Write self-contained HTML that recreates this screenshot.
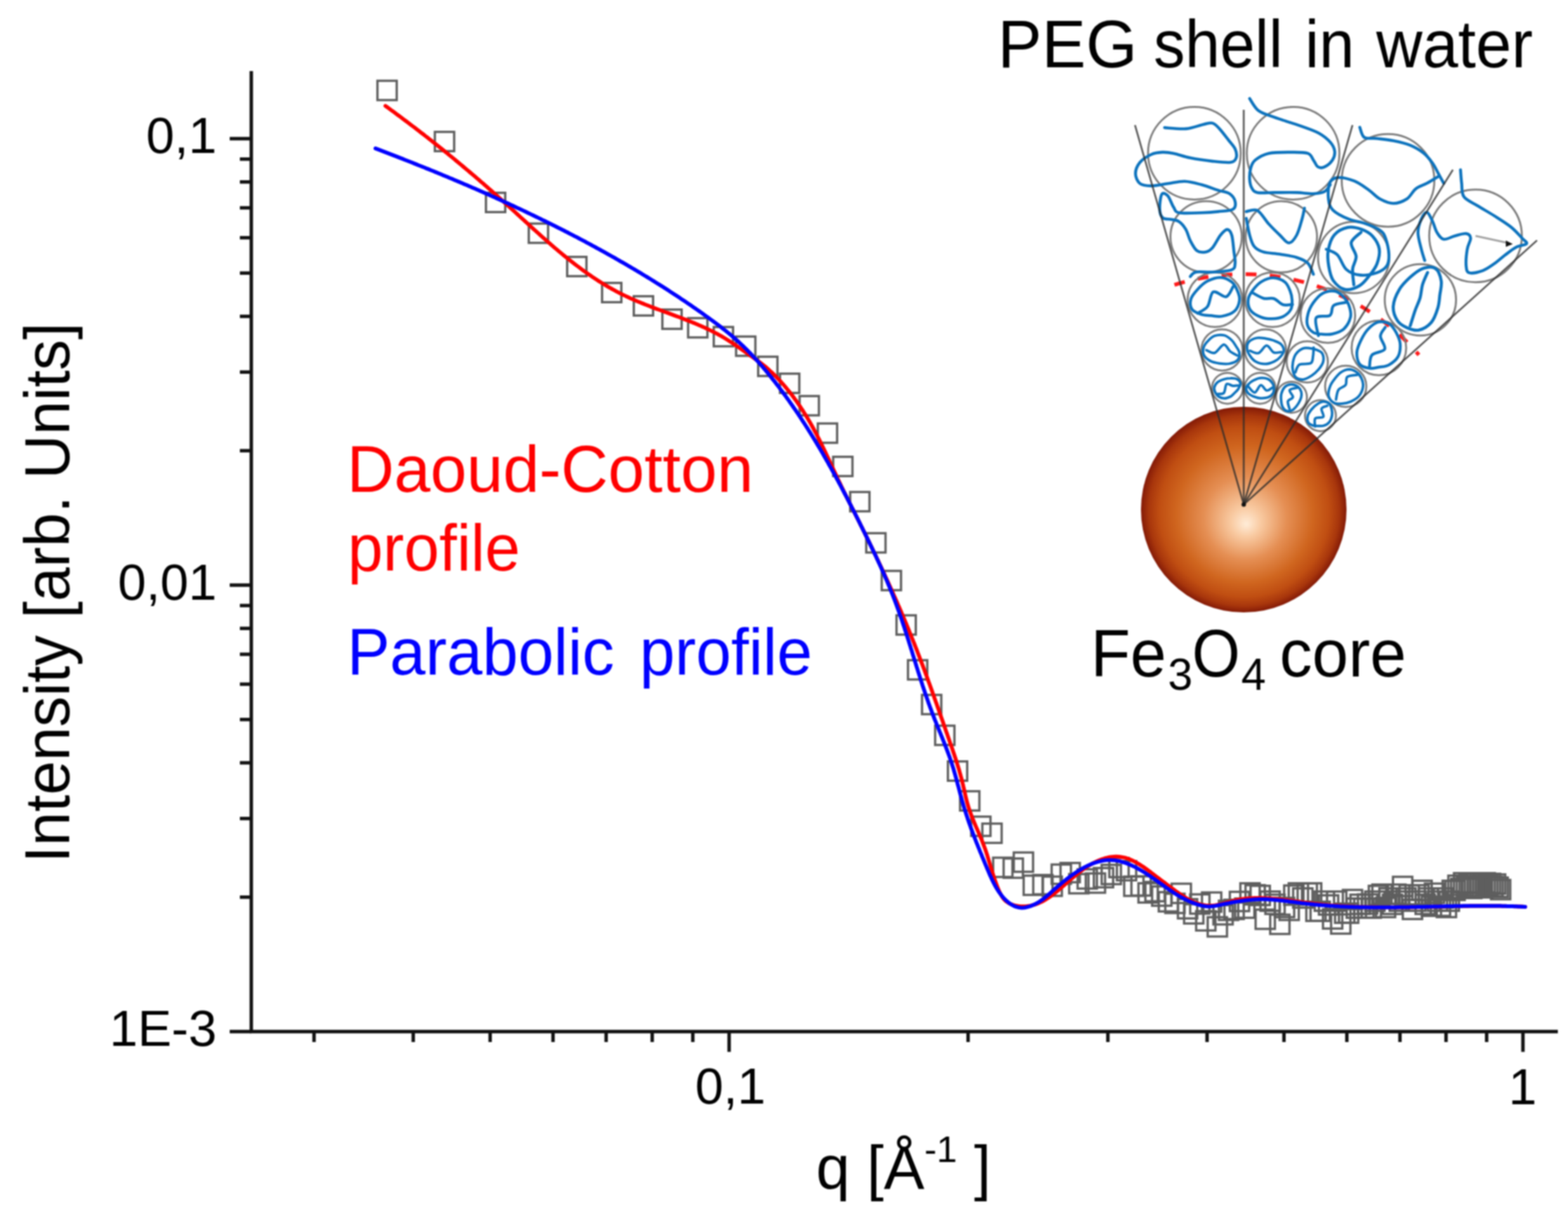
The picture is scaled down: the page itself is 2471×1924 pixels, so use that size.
<!DOCTYPE html>
<html><head><meta charset="utf-8"><title>SANS profile fit</title>
<style>html,body{margin:0;padding:0;background:#fff;overflow:hidden}svg{display:block;filter:blur(0.8px)}
text{font-family:"Liberation Sans",Arial,sans-serif}</style></head>
<body><svg width="2471" height="1924" viewBox="0 0 2471 1924">
<rect width="2471" height="1924" fill="#fff"/>
<g stroke="#111" stroke-width="5.4" fill="none">
<line x1="396.0" y1="112" x2="396.0" y2="1628.0"/>
<line x1="393.5" y1="1625.5" x2="2455" y2="1625.5"/>
<line x1="362" y1="1625.5" x2="396.0" y2="1625.5"/>
<line x1="362" y1="922.0" x2="396.0" y2="922.0"/>
<line x1="362" y1="218.5" x2="396.0" y2="218.5"/>
<line x1="378" y1="1413.7" x2="396.0" y2="1413.7"/>
<line x1="378" y1="1289.8" x2="396.0" y2="1289.8"/>
<line x1="378" y1="1202.0" x2="396.0" y2="1202.0"/>
<line x1="378" y1="1133.8" x2="396.0" y2="1133.8"/>
<line x1="378" y1="1078.1" x2="396.0" y2="1078.1"/>
<line x1="378" y1="1031.0" x2="396.0" y2="1031.0"/>
<line x1="378" y1="990.2" x2="396.0" y2="990.2"/>
<line x1="378" y1="954.2" x2="396.0" y2="954.2"/>
<line x1="378" y1="710.2" x2="396.0" y2="710.2"/>
<line x1="378" y1="586.3" x2="396.0" y2="586.3"/>
<line x1="378" y1="498.5" x2="396.0" y2="498.5"/>
<line x1="378" y1="430.3" x2="396.0" y2="430.3"/>
<line x1="378" y1="374.6" x2="396.0" y2="374.6"/>
<line x1="378" y1="327.5" x2="396.0" y2="327.5"/>
<line x1="378" y1="286.7" x2="396.0" y2="286.7"/>
<line x1="378" y1="250.7" x2="396.0" y2="250.7"/>
<line x1="1149.0" y1="1625.5" x2="1149.0" y2="1657.5"/>
<line x1="2400.0" y1="1625.5" x2="2400.0" y2="1657.5"/>
<line x1="494.9" y1="1625.5" x2="494.9" y2="1642"/>
<line x1="651.2" y1="1625.5" x2="651.2" y2="1642"/>
<line x1="772.4" y1="1625.5" x2="772.4" y2="1642"/>
<line x1="871.5" y1="1625.5" x2="871.5" y2="1642"/>
<line x1="955.2" y1="1625.5" x2="955.2" y2="1642"/>
<line x1="1027.8" y1="1625.5" x2="1027.8" y2="1642"/>
<line x1="1091.8" y1="1625.5" x2="1091.8" y2="1642"/>
<line x1="1525.6" y1="1625.5" x2="1525.6" y2="1642"/>
<line x1="1745.9" y1="1625.5" x2="1745.9" y2="1642"/>
<line x1="1902.2" y1="1625.5" x2="1902.2" y2="1642"/>
<line x1="2023.4" y1="1625.5" x2="2023.4" y2="1642"/>
<line x1="2122.5" y1="1625.5" x2="2122.5" y2="1642"/>
<line x1="2206.2" y1="1625.5" x2="2206.2" y2="1642"/>
<line x1="2278.8" y1="1625.5" x2="2278.8" y2="1642"/>
<line x1="2342.8" y1="1625.5" x2="2342.8" y2="1642"/>
</g>
<g font-size="80" fill="#000">
<text x="341.5" y="241.0" text-anchor="end">0,1</text>
<text x="341.5" y="944.5" text-anchor="end">0,01</text>
<text x="341.5" y="1648.0" text-anchor="end">1E-3</text>
<text x="1151" y="1739" text-anchor="middle">0,1</text>
<text x="2399.5" y="1740" text-anchor="middle">1</text>
</g>
<text transform="rotate(-90)" x="-1359.7" y="109.0" font-size="100" fill="#000" textLength="851.1" lengthAdjust="spacingAndGlyphs">Intensity [arb. Units]</text>
<text x="1286" y="1872.6" font-size="96" fill="#000">q [Å<tspan font-size="58" dy="-42">-1</tspan><tspan dy="42"> ]</tspan></text>
<text x="546.8" y="775.0" font-size="104" fill="#ff0000" textLength="640.3" lengthAdjust="spacingAndGlyphs">Daoud-Cotton</text>
<text x="548.0" y="898.6" font-size="104" fill="#ff0000" textLength="271.7" lengthAdjust="spacingAndGlyphs">profile</text>
<text x="546.9" y="1062.6" font-size="104" fill="#0000ff" textLength="421.1" lengthAdjust="spacingAndGlyphs">Parabolic</text>
<text x="1008.1" y="1062.6" font-size="104" fill="#0000ff" textLength="271.8" lengthAdjust="spacingAndGlyphs">profile</text>
<g fill="none" stroke="#5e5e5e" stroke-width="3.6">
<rect x="594.8" y="127.3" width="30.4" height="30.4"/>
<rect x="685.3" y="207.8" width="30.4" height="30.4"/>
<rect x="765.8" y="303.8" width="30.4" height="30.4"/>
<rect x="833.3" y="352.3" width="30.4" height="30.4"/>
<rect x="893.8" y="404.8" width="30.4" height="30.4"/>
<rect x="948.8" y="445.8" width="30.4" height="30.4"/>
<rect x="998.8" y="466.8" width="30.4" height="30.4"/>
<rect x="1043.8" y="487.8" width="30.4" height="30.4"/>
<rect x="1084.4" y="501.3" width="30.4" height="30.4"/>
<rect x="1124.8" y="515.3" width="30.4" height="30.4"/>
<rect x="1160.0" y="530.3" width="30.4" height="30.4"/>
<rect x="1194.8" y="562.1" width="30.4" height="30.4"/>
<rect x="1229.2" y="588.8" width="30.4" height="30.4"/>
<rect x="1260.1" y="624.1" width="30.4" height="30.4"/>
<rect x="1288.8" y="667.3" width="30.4" height="30.4"/>
<rect x="1313.0" y="719.8" width="30.4" height="30.4"/>
<rect x="1339.8" y="775.3" width="30.4" height="30.4"/>
<rect x="1365.1" y="840.2" width="30.4" height="30.4"/>
<rect x="1389.5" y="899.6" width="30.4" height="30.4"/>
<rect x="1412.8" y="969.6" width="30.4" height="30.4"/>
<rect x="1430.9" y="1040.3" width="30.4" height="30.4"/>
<rect x="1453.0" y="1095.0" width="30.4" height="30.4"/>
<rect x="1473.7" y="1143.5" width="30.4" height="30.4"/>
<rect x="1493.8" y="1199.8" width="30.4" height="30.4"/>
<rect x="1513.0" y="1246.8" width="30.4" height="30.4"/>
<rect x="1530.5" y="1286.8" width="30.4" height="30.4"/>
<rect x="1548.1" y="1297.8" width="30.4" height="30.4"/>
<rect x="1565.1" y="1351.5" width="30.4" height="30.4"/>
<rect x="1581.6" y="1352.8" width="30.4" height="30.4"/>
<rect x="1597.6" y="1343.3" width="30.4" height="30.4"/>
<rect x="1613.2" y="1379.8" width="30.4" height="30.4"/>
<rect x="1628.3" y="1378.8" width="30.4" height="30.4"/>
<rect x="1643.0" y="1381.3" width="30.4" height="30.4"/>
<rect x="1657.3" y="1362.3" width="30.4" height="30.4"/>
<rect x="1671.3" y="1359.8" width="30.4" height="30.4"/>
<rect x="1684.9" y="1377.3" width="30.4" height="30.4"/>
<rect x="1698.2" y="1369.8" width="30.4" height="30.4"/>
<rect x="1711.1" y="1376.3" width="30.4" height="30.4"/>
<rect x="1723.8" y="1367.8" width="30.4" height="30.4"/>
<rect x="1736.1" y="1362.8" width="30.4" height="30.4"/>
<rect x="1748.2" y="1351.8" width="30.4" height="30.4"/>
<rect x="1760.1" y="1356.8" width="30.4" height="30.4"/>
<rect x="1771.6" y="1381.3" width="30.4" height="30.4"/>
<rect x="1783.0" y="1380.8" width="30.4" height="30.4"/>
<rect x="1794.1" y="1391.8" width="30.4" height="30.4"/>
<rect x="1805.0" y="1389.8" width="30.4" height="30.4"/>
<rect x="1815.6" y="1396.8" width="30.4" height="30.4"/>
<rect x="1826.1" y="1405.8" width="30.4" height="30.4"/>
<rect x="1836.4" y="1408.3" width="30.4" height="30.4"/>
<rect x="1846.4" y="1392.5" width="30.4" height="30.4"/>
<rect x="1856.3" y="1416.8" width="30.4" height="30.4"/>
<rect x="1866.0" y="1424.8" width="30.4" height="30.4"/>
<rect x="1875.6" y="1409.3" width="30.4" height="30.4"/>
<rect x="1885.0" y="1435.8" width="30.4" height="30.4"/>
<rect x="1894.2" y="1406.3" width="30.4" height="30.4"/>
<rect x="1903.2" y="1445.3" width="30.4" height="30.4"/>
<rect x="1912.2" y="1426.3" width="30.4" height="30.4"/>
<rect x="1920.9" y="1419.3" width="30.4" height="30.4"/>
<rect x="1929.6" y="1417.8" width="30.4" height="30.4"/>
<rect x="1938.1" y="1405.3" width="30.4" height="30.4"/>
<rect x="1946.4" y="1415.8" width="30.4" height="30.4"/>
<rect x="1954.7" y="1391.8" width="30.4" height="30.4"/>
<rect x="1962.8" y="1394.8" width="30.4" height="30.4"/>
<rect x="1970.8" y="1395.8" width="30.4" height="30.4"/>
<rect x="1978.7" y="1433.3" width="30.4" height="30.4"/>
<rect x="1986.4" y="1404.8" width="30.4" height="30.4"/>
<rect x="1994.1" y="1409.8" width="30.4" height="30.4"/>
<rect x="2001.7" y="1441.3" width="30.4" height="30.4"/>
<rect x="2009.1" y="1414.8" width="30.4" height="30.4"/>
<rect x="2016.4" y="1419.3" width="30.4" height="30.4"/>
<rect x="2023.7" y="1395.3" width="30.4" height="30.4"/>
<rect x="2030.9" y="1391.8" width="30.4" height="30.4"/>
<rect x="2037.9" y="1399.8" width="30.4" height="30.4"/>
<rect x="2044.9" y="1391.8" width="30.4" height="30.4"/>
<rect x="2051.8" y="1391.8" width="30.4" height="30.4"/>
<rect x="2058.6" y="1420.8" width="30.4" height="30.4"/>
<rect x="2065.3" y="1420.8" width="30.4" height="30.4"/>
<rect x="2071.9" y="1404.8" width="30.4" height="30.4"/>
<rect x="2078.5" y="1410.8" width="30.4" height="30.4"/>
<rect x="2084.9" y="1432.8" width="30.4" height="30.4"/>
<rect x="2091.3" y="1404.8" width="30.4" height="30.4"/>
<rect x="2097.7" y="1440.8" width="30.4" height="30.4"/>
<rect x="2103.9" y="1423.8" width="30.4" height="30.4"/>
<rect x="2110.1" y="1423.8" width="30.4" height="30.4"/>
<rect x="2116.2" y="1402.3" width="30.4" height="30.4"/>
<rect x="2122.2" y="1415.8" width="30.4" height="30.4"/>
<rect x="2128.2" y="1409.8" width="30.4" height="30.4"/>
<rect x="2134.1" y="1415.8" width="30.4" height="30.4"/>
<rect x="2140.0" y="1409.3" width="30.4" height="30.4"/>
<rect x="2145.8" y="1415.8" width="30.4" height="30.4"/>
<rect x="2151.5" y="1404.8" width="30.4" height="30.4"/>
<rect x="2157.1" y="1395.8" width="30.4" height="30.4"/>
<rect x="2162.7" y="1393.8" width="30.4" height="30.4"/>
<rect x="2168.3" y="1414.8" width="30.4" height="30.4"/>
<rect x="2173.8" y="1399.8" width="30.4" height="30.4"/>
<rect x="2179.2" y="1409.8" width="30.4" height="30.4"/>
<rect x="2184.6" y="1393.8" width="30.4" height="30.4"/>
<rect x="2189.9" y="1404.8" width="30.4" height="30.4"/>
<rect x="2195.2" y="1381.6" width="30.4" height="30.4"/>
<rect x="2200.4" y="1399.8" width="30.4" height="30.4"/>
<rect x="2205.6" y="1394.8" width="30.4" height="30.4"/>
<rect x="2210.7" y="1417.8" width="30.4" height="30.4"/>
<rect x="2215.8" y="1404.8" width="30.4" height="30.4"/>
<rect x="2220.9" y="1394.8" width="30.4" height="30.4"/>
<rect x="2225.8" y="1387.8" width="30.4" height="30.4"/>
<rect x="2230.8" y="1409.8" width="30.4" height="30.4"/>
<rect x="2235.7" y="1399.8" width="30.4" height="30.4"/>
<rect x="2240.5" y="1412.8" width="30.4" height="30.4"/>
<rect x="2245.4" y="1392.3" width="30.4" height="30.4"/>
<rect x="2250.1" y="1404.8" width="30.4" height="30.4"/>
<rect x="2254.8" y="1412.8" width="30.4" height="30.4"/>
<rect x="2259.5" y="1399.8" width="30.4" height="30.4"/>
<rect x="2264.2" y="1414.8" width="30.4" height="30.4"/>
<rect x="2268.8" y="1404.8" width="30.4" height="30.4"/>
<rect x="2273.4" y="1387.8" width="30.4" height="30.4"/>
<rect x="2277.9" y="1387.8" width="30.4" height="30.4"/>
<rect x="2282.4" y="1379.8" width="30.4" height="30.4"/>
<rect x="2286.8" y="1384.8" width="30.4" height="30.4"/>
<rect x="2291.3" y="1375.8" width="30.4" height="30.4"/>
<rect x="2295.6" y="1382.8" width="30.4" height="30.4"/>
<rect x="2300.0" y="1376.8" width="30.4" height="30.4"/>
<rect x="2304.3" y="1384.8" width="30.4" height="30.4"/>
<rect x="2308.6" y="1375.8" width="30.4" height="30.4"/>
<rect x="2312.8" y="1380.8" width="30.4" height="30.4"/>
<rect x="2317.0" y="1376.8" width="30.4" height="30.4"/>
<rect x="2321.2" y="1383.8" width="30.4" height="30.4"/>
<rect x="2325.4" y="1375.8" width="30.4" height="30.4"/>
<rect x="2329.5" y="1379.8" width="30.4" height="30.4"/>
<rect x="2333.6" y="1376.8" width="30.4" height="30.4"/>
<rect x="2337.6" y="1381.8" width="30.4" height="30.4"/>
<rect x="2341.7" y="1377.8" width="30.4" height="30.4"/>
<rect x="2345.7" y="1382.8" width="30.4" height="30.4"/>
<rect x="2349.6" y="1386.6" width="30.4" height="30.4"/>
</g>
<path d="M607.4,166.8 L609.7,168.5 L612.0,170.2 L614.3,171.9 L616.6,173.6 L618.9,175.2 L621.2,176.9 L623.5,178.6 L625.7,180.3 L628.0,182.0 L630.3,183.7 L632.6,185.4 L634.8,187.1 L637.1,188.8 L639.4,190.5 L641.6,192.2 L643.9,193.9 L646.1,195.6 L648.4,197.3 L650.6,199.0 L652.9,200.7 L655.1,202.4 L657.3,204.1 L659.6,205.8 L661.8,207.6 L664.0,209.3 L666.3,211.0 L668.5,212.7 L670.7,214.5 L672.9,216.2 L675.1,217.9 L677.3,219.7 L679.5,221.4 L681.7,223.1 L683.9,224.9 L686.1,226.6 L688.3,228.4 L690.5,230.1 L692.7,231.9 L694.9,233.6 L697.1,235.4 L699.2,237.1 L701.4,238.9 L703.6,240.7 L705.8,242.4 L707.9,244.2 L710.1,246.0 L712.3,247.8 L714.4,249.5 L716.6,251.3 L718.7,253.1 L720.9,254.9 L723.1,256.7 L725.2,258.5 L727.4,260.3 L729.5,262.1 L731.6,263.9 L733.8,265.7 L735.9,267.5 L738.1,269.3 L740.2,271.1 L742.3,272.9 L744.5,274.7 L746.6,276.5 L748.7,278.3 L750.9,280.2 L753.0,282.0 L755.1,283.8 L757.2,285.7 L759.3,287.5 L761.5,289.3 L763.6,291.2 L765.7,293.0 L767.8,294.9 L769.9,296.7 L772.0,298.6 L774.1,300.4 L776.2,302.3 L778.3,304.2 L780.4,306.0 L782.5,307.9 L784.6,309.8 L786.7,311.6 L788.8,313.5 L790.9,315.4 L793.0,317.3 L795.1,319.2 L797.2,321.1 L799.3,323.0 L801.4,324.9 L803.5,326.8 L805.6,328.7 L807.7,330.6 L809.8,332.5 L811.9,334.4 L813.9,336.3 L816.0,338.2 L818.1,340.1 L820.2,342.1 L822.3,344.0 L824.4,345.9 L826.5,347.8 L828.6,349.7 L830.7,351.6 L832.8,353.6 L834.9,355.5 L837.0,357.4 L839.0,359.3 L841.1,361.2 L843.3,363.1 L845.4,365.0 L847.5,366.9 L849.6,368.8 L851.7,370.7 L853.8,372.6 L855.9,374.5 L858.0,376.3 L860.2,378.2 L862.3,380.1 L864.4,382.0 L866.6,383.8 L868.7,385.7 L870.8,387.5 L873.0,389.4 L875.1,391.2 L877.3,393.0 L879.4,394.9 L881.6,396.7 L883.8,398.5 L885.9,400.3 L888.1,402.1 L890.3,403.9 L892.5,405.7 L894.7,407.4 L896.9,409.2 L899.1,410.9 L901.3,412.7 L903.5,414.4 L905.7,416.1 L908.0,417.8 L910.2,419.5 L912.5,421.2 L914.7,422.9 L917.0,424.6 L919.2,426.2 L921.5,427.9 L923.8,429.5 L926.1,431.1 L928.4,432.7 L930.7,434.3 L933.0,435.9 L935.3,437.4 L937.6,439.0 L940.0,440.5 L942.3,442.1 L944.7,443.6 L947.0,445.0 L949.4,446.5 L951.8,448.0 L954.2,449.4 L956.6,450.9 L959.0,452.3 L961.4,453.7 L963.8,455.0 L966.3,456.4 L968.7,457.7 L971.2,459.1 L973.7,460.4 L976.1,461.7 L978.6,462.9 L981.1,464.2 L983.7,465.4 L986.2,466.6 L988.7,467.8 L991.3,469.0 L993.8,470.2 L996.4,471.3 L999.0,472.4 L1001.6,473.6 L1004.2,474.7 L1006.8,475.7 L1009.4,476.8 L1012.0,477.9 L1014.6,478.9 L1017.2,480.0 L1019.9,481.0 L1022.5,482.0 L1025.1,483.1 L1027.8,484.1 L1030.4,485.1 L1033.1,486.1 L1035.7,487.1 L1038.4,488.0 L1041.1,489.0 L1043.7,490.0 L1046.4,491.0 L1049.0,492.0 L1051.7,492.9 L1054.4,493.9 L1057.0,494.9 L1059.7,495.9 L1062.3,496.9 L1065.0,497.9 L1067.7,498.8 L1070.3,499.8 L1072.9,500.8 L1075.6,501.8 L1078.2,502.9 L1080.9,503.9 L1083.5,504.9 L1086.1,505.9 L1088.7,507.0 L1091.3,508.1 L1094.0,509.1 L1096.5,510.2 L1099.1,511.3 L1101.7,512.4 L1104.3,513.5 L1106.9,514.7 L1109.4,515.8 L1112.0,517.0 L1114.5,518.2 L1117.0,519.4 L1119.5,520.6 L1122.0,521.8 L1124.5,523.1 L1127.0,524.4 L1129.4,525.7 L1131.9,527.0 L1134.3,528.3 L1136.7,529.7 L1139.1,531.1 L1141.5,532.5 L1143.9,534.0 L1146.3,535.5 L1148.6,537.0 L1150.9,538.5 L1153.3,540.0 L1155.6,541.5 L1157.9,543.1 L1160.2,544.7 L1162.5,546.3 L1164.8,547.9 L1167.1,549.5 L1169.4,551.1 L1171.7,552.7 L1174.0,554.4 L1176.3,556.0 L1178.6,557.6 L1180.9,559.2 L1183.2,560.8 L1185.5,562.4 L1187.8,564.1 L1190.1,565.7 L1192.4,567.3 L1194.7,569.0 L1197.0,570.6 L1199.3,572.3 L1201.5,574.1 L1203.7,575.8 L1205.9,577.6 L1208.0,579.4 L1210.1,581.3 L1212.2,583.2 L1214.3,585.1 L1216.4,587.0 L1218.4,588.9 L1220.4,590.9 L1222.4,592.9 L1224.3,594.9 L1226.3,597.0 L1228.2,599.0 L1230.1,601.1 L1232.0,603.2 L1233.9,605.3 L1235.7,607.4 L1237.5,609.5 L1239.3,611.7 L1241.1,613.9 L1242.9,616.0 L1244.6,618.2 L1246.4,620.5 L1248.1,622.7 L1249.8,624.9 L1251.5,627.2 L1253.1,629.5 L1254.8,631.7 L1256.4,634.0 L1258.0,636.4 L1259.6,638.7 L1261.2,641.0 L1262.7,643.4 L1264.3,645.7 L1265.8,648.1 L1267.3,650.5 L1268.8,652.8 L1270.3,655.2 L1271.8,657.7 L1273.2,660.1 L1274.6,662.5 L1276.1,664.9 L1277.5,667.4 L1278.8,669.8 L1280.2,672.3 L1281.6,674.8 L1282.9,677.2 L1284.2,679.7 L1285.6,682.2 L1286.9,684.7 L1288.2,687.2 L1289.4,689.7 L1290.7,692.2 L1292.0,694.7 L1293.2,697.2 L1294.5,699.8 L1295.7,702.3 L1296.9,704.8 L1298.2,707.3 L1299.4,709.9 L1300.6,712.4 L1301.8,715.0 L1303.0,717.5 L1304.2,720.0 L1305.4,722.6 L1306.6,725.1 L1307.8,727.7 L1308.9,730.2 L1310.1,732.8 L1311.3,735.4 L1312.5,737.9 L1313.7,740.5 L1314.9,743.0 L1316.1,745.6 L1317.3,748.1 L1318.4,750.6 L1319.6,753.2 L1320.8,755.7 L1322.1,758.3 L1323.3,760.8 L1324.5,763.3 L1325.7,765.9 L1326.9,768.4 L1328.2,770.9 L1329.4,773.5 L1330.6,776.0 L1331.9,778.5 L1333.1,781.0 L1334.4,783.5 L1335.6,786.1 L1336.9,788.6 L1338.2,791.1 L1339.4,793.6 L1340.7,796.1 L1341.9,798.6 L1343.2,801.1 L1344.5,803.7 L1345.7,806.2 L1347.0,808.7 L1348.3,811.2 L1349.5,813.7 L1350.8,816.2 L1352.1,818.7 L1353.3,821.2 L1354.6,823.7 L1355.8,826.3 L1357.1,828.8 L1358.4,831.3 L1359.6,833.8 L1360.9,836.3 L1362.1,838.9 L1363.4,841.4 L1364.6,843.9 L1365.8,846.4 L1367.1,848.9 L1368.3,851.5 L1369.6,854.0 L1370.8,856.5 L1372.0,859.1 L1373.3,861.6 L1374.5,864.1 L1375.7,866.7 L1376.9,869.2 L1378.1,871.7 L1379.4,874.3 L1380.6,876.8 L1381.8,879.4 L1383.0,881.9 L1384.2,884.4 L1385.4,887.0 L1386.6,889.5 L1387.8,892.1 L1389.0,894.6 L1390.2,897.2 L1391.4,899.7 L1392.6,902.3 L1393.7,904.8 L1394.9,907.4 L1396.1,910.0 L1397.3,912.5 L1398.4,915.1 L1399.6,917.6 L1400.8,920.2 L1401.9,922.8 L1403.1,925.3 L1404.3,927.9 L1405.4,930.5 L1406.6,933.0 L1407.7,935.6 L1408.8,938.2 L1410.0,940.8 L1411.1,943.3 L1412.3,945.9 L1413.4,948.5 L1414.5,951.1 L1415.6,953.7 L1416.8,956.2 L1417.9,958.8 L1419.0,961.4 L1420.1,964.0 L1421.2,966.6 L1422.3,969.2 L1423.4,971.8 L1424.5,974.4 L1425.6,977.0 L1426.7,979.6 L1427.8,982.1 L1428.8,984.7 L1429.9,987.3 L1431.0,990.0 L1432.1,992.6 L1433.1,995.2 L1434.2,997.8 L1435.2,1000.4 L1436.3,1003.0 L1437.3,1005.6 L1438.4,1008.2 L1439.4,1010.8 L1440.5,1013.4 L1441.5,1016.1 L1442.5,1018.7 L1443.6,1021.3 L1444.6,1023.9 L1445.6,1026.5 L1446.6,1029.2 L1447.6,1031.8 L1448.6,1034.4 L1449.6,1037.0 L1450.6,1039.7 L1451.6,1042.3 L1452.6,1044.9 L1453.6,1047.6 L1454.6,1050.2 L1455.6,1052.8 L1456.6,1055.5 L1457.5,1058.1 L1458.5,1060.8 L1459.5,1063.4 L1460.5,1066.0 L1461.4,1068.7 L1462.4,1071.3 L1463.3,1074.0 L1464.3,1076.6 L1465.3,1079.3 L1466.2,1081.9 L1467.2,1084.5 L1468.1,1087.2 L1469.1,1089.8 L1470.0,1092.5 L1471.0,1095.1 L1471.9,1097.8 L1472.8,1100.4 L1473.8,1103.1 L1474.7,1105.8 L1475.7,1108.4 L1476.6,1111.1 L1477.5,1113.7 L1478.5,1116.4 L1479.4,1119.0 L1480.3,1121.7 L1481.2,1124.3 L1482.2,1127.0 L1483.1,1129.7 L1484.0,1132.3 L1485.0,1135.0 L1485.9,1137.6 L1486.8,1140.3 L1487.7,1142.9 L1488.7,1145.6 L1489.6,1148.3 L1490.5,1150.9 L1491.4,1153.6 L1492.4,1156.2 L1493.3,1158.9 L1494.2,1161.5 L1495.2,1164.2 L1496.1,1166.9 L1497.0,1169.5 L1497.9,1172.2 L1498.9,1174.8 L1499.8,1177.5 L1500.7,1180.1 L1501.6,1182.8 L1502.5,1185.5 L1503.4,1188.1 L1504.3,1190.8 L1505.2,1193.5 L1506.1,1196.1 L1506.9,1198.8 L1507.8,1201.5 L1508.6,1204.2 L1509.4,1206.8 L1510.3,1209.5 L1511.1,1212.2 L1511.9,1214.9 L1512.6,1217.6 L1513.4,1220.3 L1514.1,1223.0 L1514.9,1225.7 L1515.6,1228.4 L1516.3,1231.2 L1516.9,1233.9 L1517.6,1236.6 L1518.2,1239.3 L1518.8,1242.1 L1519.5,1244.8 L1520.1,1247.6 L1520.7,1250.3 L1521.3,1253.0 L1521.9,1255.8 L1522.6,1258.5 L1523.3,1261.2 L1524.0,1263.9 L1524.7,1266.7 L1525.5,1269.4 L1526.3,1272.0 L1527.2,1274.7 L1528.1,1277.4 L1529.0,1280.1 L1530.0,1282.7 L1531.0,1285.3 L1532.0,1288.0 L1533.1,1290.6 L1534.1,1293.2 L1535.2,1295.9 L1536.3,1298.5 L1537.4,1301.1 L1538.5,1303.7 L1539.7,1306.3 L1540.8,1308.9 L1541.9,1311.5 L1543.0,1314.1 L1544.1,1316.7 L1545.2,1319.3 L1546.3,1321.9 L1547.4,1324.5 L1548.4,1327.1 L1549.4,1329.7 L1550.4,1332.3 L1551.4,1335.0 L1552.4,1337.6 L1553.3,1340.2 L1554.2,1342.8 L1555.0,1345.5 L1555.9,1348.1 L1556.7,1350.8 L1557.5,1353.4 L1558.3,1356.1 L1559.1,1358.7 L1559.9,1361.4 L1560.7,1364.1 L1561.5,1366.8 L1562.3,1369.4 L1563.2,1372.1 L1564.0,1374.8 L1564.8,1377.5 L1565.7,1380.2 L1566.6,1382.9 L1567.5,1385.6 L1568.4,1388.3 L1569.4,1391.1 L1570.4,1393.8 L1571.4,1396.5 L1572.5,1399.3 L1573.6,1402.0 L1574.8,1404.7 L1576.1,1407.4 L1577.4,1410.0 L1578.9,1412.5 L1580.5,1414.9 L1582.2,1417.1 L1584.2,1419.1 L1586.3,1420.8 L1588.6,1422.4 L1591.0,1423.8 L1593.6,1424.9 L1596.2,1425.9 L1599.0,1426.7 L1601.7,1427.3 L1604.6,1427.8 L1607.4,1428.1 L1610.3,1428.2 L1613.1,1428.3 L1615.9,1428.2 L1618.6,1427.9 L1621.3,1427.6 L1623.9,1427.1 L1626.6,1426.5 L1629.1,1425.9 L1631.7,1425.1 L1634.2,1424.2 L1636.6,1423.2 L1639.1,1422.1 L1641.5,1421.0 L1643.8,1419.8 L1646.2,1418.4 L1648.5,1417.1 L1650.8,1415.6 L1653.1,1414.1 L1655.4,1412.5 L1657.6,1410.9 L1659.8,1409.2 L1662.1,1407.5 L1664.3,1405.7 L1666.5,1403.9 L1668.7,1402.1 L1670.9,1400.2 L1673.1,1398.3 L1675.2,1396.4 L1677.4,1394.5 L1679.6,1392.6 L1681.8,1390.6 L1684.0,1388.7 L1686.2,1386.7 L1688.5,1384.8 L1690.7,1382.9 L1692.9,1381.0 L1695.2,1379.1 L1697.5,1377.2 L1699.8,1375.4 L1702.1,1373.6 L1704.5,1371.8 L1706.9,1370.1 L1709.3,1368.4 L1711.7,1366.7 L1714.1,1365.1 L1716.6,1363.6 L1719.1,1362.1 L1721.6,1360.7 L1724.1,1359.4 L1726.6,1358.1 L1729.1,1356.9 L1731.7,1355.8 L1734.3,1354.8 L1736.8,1353.8 L1739.4,1353.0 L1742.0,1352.2 L1744.6,1351.6 L1747.2,1351.0 L1749.8,1350.5 L1752.5,1350.2 L1755.1,1349.9 L1757.7,1349.8 L1760.3,1349.8 L1763.0,1349.9 L1765.6,1350.2 L1768.2,1350.6 L1770.8,1351.1 L1773.4,1351.7 L1776.0,1352.5 L1778.6,1353.4 L1781.2,1354.5 L1783.8,1355.6 L1786.4,1356.8 L1788.9,1358.2 L1791.5,1359.6 L1794.0,1361.0 L1796.5,1362.6 L1799.0,1364.2 L1801.5,1365.8 L1803.9,1367.5 L1806.3,1369.2 L1808.8,1371.0 L1811.1,1372.8 L1813.5,1374.5 L1815.8,1376.3 L1818.1,1378.0 L1820.4,1379.8 L1822.6,1381.5 L1824.8,1383.2 L1827.0,1384.8 L1829.1,1386.5 L1831.3,1388.1 L1833.4,1389.7 L1835.5,1391.3 L1837.7,1392.9 L1839.8,1394.5 L1842.0,1396.1 L1844.2,1397.8 L1846.4,1399.4 L1848.6,1401.0 L1850.9,1402.7 L1853.2,1404.4 L1855.5,1406.0 L1857.9,1407.7 L1860.3,1409.3 L1862.7,1410.9 L1865.1,1412.5 L1867.6,1414.1 L1870.1,1415.6 L1872.6,1417.0 L1875.1,1418.4 L1877.7,1419.7 L1880.3,1420.9 L1882.9,1422.0 L1885.5,1423.1 L1888.1,1424.0 L1890.8,1424.8 L1893.5,1425.6 L1896.1,1426.2 L1898.8,1426.6 L1901.5,1426.9 L1904.3,1427.1 L1907.0,1427.1 L1909.7,1427.0 L1912.5,1426.8 L1915.3,1426.4 L1918.0,1425.9 L1920.8,1425.4 L1923.6,1424.7 L1926.4,1424.1 L1929.2,1423.3 L1931.9,1422.6 L1934.7,1421.8 L1937.5,1421.1 L1940.3,1420.3 L1943.1,1419.6 L1945.9,1418.9 L1948.7,1418.3 L1951.5,1417.8 L1954.3,1417.3 L1957.1,1416.8 L1959.9,1416.4 L1962.7,1416.1 L1965.5,1415.8 L1968.3,1415.6 L1971.1,1415.4 L1973.9,1415.2 L1976.7,1415.1 L1979.4,1415.1 L1982.2,1415.0 L1985.0,1415.0 L1987.8,1415.1 L1990.6,1415.2 L1993.4,1415.3 L1996.1,1415.4 L1998.9,1415.6 L2001.7,1415.8 L2004.5,1416.0 L2007.3,1416.2 L2010.1,1416.5 L2012.9,1416.7 L2015.6,1417.0 L2018.4,1417.3 L2021.2,1417.6 L2024.0,1418.0 L2026.8,1418.3 L2029.6,1418.6 L2032.4,1419.0 L2035.2,1419.3 L2038.0,1419.7 L2040.7,1420.1 L2043.5,1420.4 L2046.3,1420.8 L2049.1,1421.2 L2051.9,1421.5 L2054.7,1421.9 L2057.5,1422.2 L2060.3,1422.6 L2063.1,1423.0 L2065.9,1423.3 L2068.7,1423.6 L2071.5,1424.0 L2074.3,1424.3 L2077.1,1424.6 L2079.9,1424.9 L2082.7,1425.2 L2085.5,1425.5 L2088.3,1425.7 L2091.1,1426.0 L2093.9,1426.2 L2096.7,1426.5 L2099.5,1426.7 L2102.3,1426.9 L2105.1,1427.1 L2107.9,1427.3 L2110.8,1427.5 L2113.6,1427.7 L2116.4,1427.9 L2119.2,1428.0 L2122.0,1428.2 L2124.8,1428.3 L2127.6,1428.5 L2130.4,1428.6 L2133.2,1428.7 L2136.0,1428.8 L2138.8,1428.9 L2141.7,1429.0 L2144.5,1429.1 L2147.3,1429.2 L2150.1,1429.3 L2152.9,1429.3 L2155.7,1429.4 L2158.5,1429.5 L2161.3,1429.5 L2164.2,1429.6 L2167.0,1429.6 L2169.8,1429.6 L2172.6,1429.7 L2175.4,1429.7 L2178.2,1429.7 L2181.0,1429.7 L2183.9,1429.7 L2186.7,1429.7 L2189.5,1429.7 L2192.3,1429.7 L2195.1,1429.7 L2197.9,1429.7 L2200.8,1429.7 L2203.6,1429.7 L2206.4,1429.6 L2209.2,1429.6 L2212.0,1429.6 L2214.8,1429.5 L2217.7,1429.5 L2220.5,1429.4 L2223.3,1429.4 L2226.1,1429.4 L2228.9,1429.3 L2231.7,1429.3 L2234.6,1429.2 L2237.4,1429.2 L2240.2,1429.1 L2243.0,1429.0 L2245.8,1429.0 L2248.7,1428.9 L2251.5,1428.9 L2254.3,1428.8 L2257.1,1428.7 L2259.9,1428.7 L2262.7,1428.6 L2265.6,1428.6 L2268.4,1428.5 L2271.2,1428.4 L2274.0,1428.4 L2276.8,1428.3 L2279.7,1428.3 L2282.5,1428.2 L2285.3,1428.1 L2288.1,1428.1 L2290.9,1428.0 L2293.7,1428.0 L2296.6,1427.9 L2299.4,1427.9 L2302.2,1427.8 L2305.0,1427.8 L2307.8,1427.7 L2310.7,1427.7 L2313.5,1427.7 L2316.3,1427.6 L2319.1,1427.6 L2321.9,1427.6 L2324.7,1427.5 L2327.6,1427.5 L2330.4,1427.5 L2333.2,1427.5 L2336.0,1427.5 L2338.8,1427.5 L2341.6,1427.5 L2344.4,1427.5 L2347.3,1427.5 L2350.1,1427.5 L2352.9,1427.5 L2355.7,1427.5 L2358.5,1427.6 L2361.3,1427.6 L2364.1,1427.6 L2367.0,1427.7 L2369.8,1427.7 L2372.6,1427.8 L2375.4,1427.9 L2378.2,1427.9 L2381.0,1428.0 L2383.8,1428.1 L2386.6,1428.2 L2389.4,1428.3 L2392.3,1428.4 L2395.1,1428.5 L2397.9,1428.6 L2400.7,1428.8 L2403.5,1428.9" fill="none" stroke="#ff0000" stroke-width="6" stroke-linejoin="round" stroke-linecap="round"/>
<path d="M591.7,233.9 L594.4,234.9 L597.0,235.9 L599.6,236.9 L602.2,237.9 L604.8,238.9 L607.4,239.9 L610.0,240.9 L612.6,241.9 L615.2,242.9 L617.8,243.9 L620.4,244.9 L623.0,245.9 L625.6,246.9 L628.1,247.9 L630.7,248.9 L633.3,249.9 L635.9,250.9 L638.5,252.0 L641.1,253.0 L643.7,254.0 L646.3,255.0 L648.9,256.0 L651.5,257.1 L654.1,258.1 L656.6,259.1 L659.2,260.2 L661.8,261.2 L664.4,262.2 L667.0,263.3 L669.6,264.3 L672.1,265.4 L674.7,266.4 L677.3,267.4 L679.9,268.5 L682.5,269.5 L685.0,270.6 L687.6,271.6 L690.2,272.7 L692.8,273.8 L695.3,274.8 L697.9,275.9 L700.5,277.0 L703.0,278.0 L705.6,279.1 L708.2,280.2 L710.8,281.2 L713.3,282.3 L715.9,283.4 L718.4,284.5 L721.0,285.6 L723.6,286.6 L726.1,287.7 L728.7,288.8 L731.2,289.9 L733.8,291.0 L736.4,292.1 L738.9,293.2 L741.5,294.3 L744.0,295.4 L746.6,296.5 L749.1,297.6 L751.7,298.7 L754.2,299.8 L756.8,301.0 L759.3,302.1 L761.9,303.2 L764.4,304.3 L766.9,305.5 L769.5,306.6 L772.0,307.7 L774.6,308.9 L777.1,310.0 L779.6,311.1 L782.2,312.3 L784.7,313.4 L787.2,314.6 L789.8,315.7 L792.3,316.9 L794.8,318.0 L797.4,319.2 L799.9,320.3 L802.4,321.5 L804.9,322.7 L807.5,323.8 L810.0,325.0 L812.5,326.2 L815.0,327.4 L817.5,328.5 L820.1,329.7 L822.6,330.9 L825.1,332.1 L827.6,333.3 L830.1,334.5 L832.6,335.7 L835.1,336.9 L837.6,338.1 L840.1,339.3 L842.6,340.5 L845.1,341.7 L847.6,342.9 L850.1,344.1 L852.6,345.3 L855.1,346.6 L857.6,347.8 L860.1,349.0 L862.6,350.3 L865.1,351.5 L867.6,352.7 L870.1,354.0 L872.6,355.2 L875.1,356.5 L877.5,357.7 L880.0,359.0 L882.5,360.2 L885.0,361.5 L887.5,362.7 L889.9,364.0 L892.4,365.3 L894.9,366.5 L897.3,367.8 L899.8,369.1 L902.3,370.4 L904.7,371.7 L907.2,372.9 L909.7,374.2 L912.1,375.5 L914.6,376.8 L917.1,378.1 L919.5,379.4 L922.0,380.7 L924.4,382.1 L926.9,383.4 L929.3,384.7 L931.8,386.0 L934.2,387.3 L936.7,388.7 L939.1,390.0 L941.5,391.3 L944.0,392.7 L946.4,394.0 L948.9,395.3 L951.3,396.7 L953.7,398.0 L956.1,399.4 L958.6,400.8 L961.0,402.1 L963.4,403.5 L965.9,404.9 L968.3,406.2 L970.7,407.6 L973.1,409.0 L975.5,410.4 L977.9,411.8 L980.4,413.2 L982.8,414.5 L985.2,415.9 L987.6,417.3 L990.0,418.8 L992.4,420.2 L994.8,421.6 L997.2,423.0 L999.6,424.4 L1002.0,425.8 L1004.4,427.3 L1006.8,428.7 L1009.2,430.1 L1011.5,431.6 L1013.9,433.0 L1016.3,434.5 L1018.7,435.9 L1021.1,437.4 L1023.4,438.8 L1025.8,440.3 L1028.2,441.8 L1030.6,443.2 L1032.9,444.7 L1035.3,446.2 L1037.6,447.7 L1040.0,449.1 L1042.4,450.6 L1044.7,452.1 L1047.1,453.6 L1049.4,455.1 L1051.8,456.6 L1054.1,458.1 L1056.4,459.7 L1058.8,461.2 L1061.1,462.7 L1063.4,464.2 L1065.8,465.8 L1068.1,467.3 L1070.4,468.8 L1072.7,470.4 L1075.0,471.9 L1077.4,473.5 L1079.7,475.0 L1082.0,476.6 L1084.3,478.2 L1086.6,479.7 L1088.9,481.3 L1091.1,482.9 L1093.4,484.5 L1095.7,486.0 L1098.0,487.6 L1100.3,489.2 L1102.5,490.8 L1104.8,492.4 L1107.1,494.0 L1109.3,495.6 L1111.6,497.3 L1113.8,498.9 L1116.1,500.5 L1118.3,502.1 L1120.6,503.8 L1122.8,505.4 L1125.0,507.0 L1127.2,508.7 L1129.5,510.4 L1131.7,512.0 L1133.9,513.7 L1136.1,515.4 L1138.2,517.1 L1140.4,518.8 L1142.6,520.5 L1144.7,522.2 L1146.9,524.0 L1149.0,525.7 L1151.2,527.5 L1153.3,529.3 L1155.4,531.1 L1157.5,532.9 L1159.6,534.7 L1161.6,536.6 L1163.7,538.4 L1165.7,540.3 L1167.7,542.2 L1169.8,544.1 L1171.8,546.0 L1173.7,548.0 L1175.7,549.9 L1177.7,551.9 L1179.6,553.9 L1181.6,555.9 L1183.5,557.9 L1185.4,559.9 L1187.3,562.0 L1189.2,564.0 L1191.1,566.1 L1193.0,568.1 L1194.8,570.2 L1196.7,572.3 L1198.5,574.4 L1200.4,576.5 L1202.2,578.6 L1204.0,580.8 L1205.8,582.9 L1207.6,585.0 L1209.4,587.2 L1211.1,589.4 L1212.9,591.5 L1214.6,593.7 L1216.4,595.9 L1218.1,598.1 L1219.9,600.2 L1221.6,602.4 L1223.3,604.6 L1225.0,606.8 L1226.7,609.0 L1228.4,611.3 L1230.0,613.5 L1231.7,615.7 L1233.4,617.9 L1235.0,620.2 L1236.7,622.4 L1238.3,624.6 L1239.9,626.9 L1241.6,629.1 L1243.2,631.4 L1244.8,633.7 L1246.4,635.9 L1248.0,638.2 L1249.6,640.5 L1251.1,642.8 L1252.7,645.0 L1254.3,647.3 L1255.8,649.6 L1257.4,651.9 L1258.9,654.2 L1260.5,656.5 L1262.0,658.9 L1263.5,661.2 L1265.0,663.5 L1266.6,665.8 L1268.1,668.1 L1269.6,670.5 L1271.1,672.8 L1272.6,675.2 L1274.0,677.5 L1275.5,679.9 L1277.0,682.2 L1278.4,684.6 L1279.9,686.9 L1281.4,689.3 L1282.8,691.7 L1284.3,694.0 L1285.7,696.4 L1287.1,698.8 L1288.5,701.2 L1290.0,703.6 L1291.4,706.0 L1292.8,708.3 L1294.2,710.7 L1295.6,713.1 L1297.0,715.5 L1298.4,718.0 L1299.8,720.4 L1301.2,722.8 L1302.5,725.2 L1303.9,727.6 L1305.3,730.0 L1306.6,732.5 L1308.0,734.9 L1309.4,737.3 L1310.7,739.7 L1312.1,742.2 L1313.4,744.6 L1314.7,747.1 L1316.1,749.5 L1317.4,751.9 L1318.7,754.4 L1320.1,756.8 L1321.4,759.3 L1322.7,761.7 L1324.0,764.2 L1325.3,766.7 L1326.6,769.1 L1327.9,771.6 L1329.2,774.0 L1330.5,776.5 L1331.8,779.0 L1333.1,781.4 L1334.4,783.9 L1335.7,786.4 L1336.9,788.9 L1338.2,791.3 L1339.5,793.8 L1340.8,796.3 L1342.0,798.8 L1343.3,801.3 L1344.6,803.7 L1345.8,806.2 L1347.1,808.7 L1348.3,811.2 L1349.6,813.7 L1350.8,816.2 L1352.1,818.7 L1353.3,821.1 L1354.6,823.6 L1355.8,826.1 L1357.0,828.6 L1358.3,831.1 L1359.5,833.6 L1360.7,836.1 L1362.0,838.6 L1363.2,841.1 L1364.4,843.6 L1365.7,846.1 L1366.9,848.6 L1368.1,851.1 L1369.3,853.6 L1370.5,856.1 L1371.7,858.6 L1372.9,861.1 L1374.1,863.6 L1375.3,866.1 L1376.5,868.6 L1377.7,871.1 L1378.9,873.6 L1380.1,876.1 L1381.2,878.6 L1382.4,881.2 L1383.6,883.7 L1384.7,886.2 L1385.9,888.7 L1387.0,891.3 L1388.2,893.8 L1389.3,896.3 L1390.4,898.9 L1391.6,901.4 L1392.7,903.9 L1393.8,906.5 L1394.9,909.0 L1396.0,911.6 L1397.1,914.1 L1398.2,916.7 L1399.2,919.2 L1400.3,921.8 L1401.4,924.3 L1402.4,926.9 L1403.5,929.5 L1404.5,932.0 L1405.5,934.6 L1406.6,937.2 L1407.6,939.8 L1408.6,942.4 L1409.6,945.0 L1410.6,947.6 L1411.5,950.1 L1412.5,952.8 L1413.5,955.4 L1414.4,958.0 L1415.4,960.6 L1416.3,963.2 L1417.2,965.8 L1418.1,968.4 L1419.1,971.1 L1420.0,973.7 L1420.9,976.3 L1421.8,979.0 L1422.6,981.6 L1423.5,984.2 L1424.4,986.9 L1425.3,989.5 L1426.1,992.2 L1427.0,994.8 L1427.9,997.5 L1428.7,1000.1 L1429.6,1002.8 L1430.4,1005.4 L1431.3,1008.1 L1432.1,1010.7 L1432.9,1013.4 L1433.8,1016.1 L1434.6,1018.7 L1435.4,1021.4 L1436.3,1024.0 L1437.1,1026.7 L1437.9,1029.4 L1438.7,1032.0 L1439.6,1034.7 L1440.4,1037.4 L1441.2,1040.0 L1442.1,1042.7 L1442.9,1045.4 L1443.7,1048.0 L1444.5,1050.7 L1445.4,1053.3 L1446.2,1056.0 L1447.0,1058.7 L1447.9,1061.3 L1448.7,1064.0 L1449.6,1066.6 L1450.4,1069.3 L1451.3,1072.0 L1452.1,1074.6 L1453.0,1077.3 L1453.8,1079.9 L1454.7,1082.5 L1455.6,1085.2 L1456.5,1087.8 L1457.4,1090.5 L1458.2,1093.1 L1459.1,1095.7 L1460.1,1098.4 L1461.0,1101.0 L1461.9,1103.6 L1462.8,1106.3 L1463.7,1108.9 L1464.7,1111.5 L1465.6,1114.1 L1466.6,1116.7 L1467.6,1119.3 L1468.5,1121.9 L1469.5,1124.5 L1470.5,1127.1 L1471.5,1129.7 L1472.5,1132.3 L1473.5,1134.9 L1474.6,1137.4 L1475.6,1140.0 L1476.6,1142.6 L1477.7,1145.2 L1478.7,1147.7 L1479.8,1150.3 L1480.8,1152.9 L1481.9,1155.4 L1482.9,1158.0 L1484.0,1160.6 L1485.0,1163.2 L1486.0,1165.7 L1487.1,1168.3 L1488.1,1170.9 L1489.1,1173.5 L1490.1,1176.0 L1491.1,1178.6 L1492.1,1181.2 L1493.1,1183.8 L1494.1,1186.4 L1495.0,1189.0 L1496.0,1191.6 L1496.9,1194.2 L1497.8,1196.9 L1498.7,1199.5 L1499.5,1202.1 L1500.4,1204.8 L1501.2,1207.4 L1502.1,1210.1 L1502.9,1212.7 L1503.6,1215.4 L1504.4,1218.1 L1505.2,1220.8 L1505.9,1223.5 L1506.7,1226.1 L1507.4,1228.8 L1508.1,1231.5 L1508.8,1234.2 L1509.5,1236.9 L1510.3,1239.6 L1511.0,1242.3 L1511.7,1245.0 L1512.4,1247.7 L1513.1,1250.4 L1513.8,1253.1 L1514.6,1255.7 L1515.3,1258.4 L1516.0,1261.1 L1516.8,1263.8 L1517.6,1266.5 L1518.3,1269.1 L1519.1,1271.8 L1519.9,1274.4 L1520.8,1277.1 L1521.6,1279.7 L1522.4,1282.3 L1523.3,1285.0 L1524.2,1287.6 L1525.0,1290.2 L1525.9,1292.8 L1526.8,1295.4 L1527.7,1298.0 L1528.7,1300.7 L1529.6,1303.3 L1530.5,1305.9 L1531.5,1308.4 L1532.5,1311.0 L1533.4,1313.6 L1534.4,1316.2 L1535.4,1318.8 L1536.4,1321.4 L1537.4,1324.0 L1538.4,1326.6 L1539.4,1329.1 L1540.5,1331.7 L1541.5,1334.3 L1542.6,1336.9 L1543.6,1339.5 L1544.6,1342.1 L1545.7,1344.6 L1546.8,1347.2 L1547.8,1349.8 L1548.9,1352.4 L1550.0,1355.0 L1551.1,1357.6 L1552.1,1360.2 L1553.2,1362.8 L1554.3,1365.4 L1555.4,1368.0 L1556.5,1370.6 L1557.6,1373.2 L1558.7,1375.8 L1559.8,1378.4 L1561.0,1380.9 L1562.2,1383.5 L1563.3,1386.1 L1564.6,1388.6 L1565.8,1391.1 L1567.1,1393.6 L1568.4,1396.0 L1569.8,1398.4 L1571.2,1400.8 L1572.7,1403.2 L1574.2,1405.5 L1575.8,1407.7 L1577.5,1409.9 L1579.2,1412.1 L1581.0,1414.2 L1582.9,1416.2 L1584.8,1418.2 L1586.8,1420.0 L1588.9,1421.8 L1591.1,1423.5 L1593.4,1425.0 L1595.7,1426.4 L1598.1,1427.6 L1600.6,1428.6 L1603.2,1429.4 L1605.8,1430.0 L1608.5,1430.4 L1611.3,1430.4 L1614.2,1430.2 L1617.1,1429.7 L1620.0,1429.0 L1622.9,1428.1 L1625.7,1427.1 L1628.3,1426.0 L1630.9,1424.8 L1633.4,1423.5 L1635.7,1422.2 L1638.0,1420.8 L1640.2,1419.3 L1642.4,1417.8 L1644.5,1416.2 L1646.5,1414.6 L1648.6,1412.9 L1650.6,1411.2 L1652.6,1409.5 L1654.6,1407.7 L1656.6,1405.9 L1658.6,1404.1 L1660.7,1402.2 L1662.8,1400.4 L1664.9,1398.6 L1667.0,1396.7 L1669.2,1394.9 L1671.4,1393.0 L1673.6,1391.2 L1675.9,1389.3 L1678.2,1387.5 L1680.5,1385.7 L1682.8,1383.9 L1685.1,1382.1 L1687.5,1380.4 L1689.8,1378.7 L1692.2,1377.0 L1694.7,1375.4 L1697.1,1373.7 L1699.5,1372.2 L1702.0,1370.7 L1704.5,1369.2 L1707.0,1367.8 L1709.5,1366.4 L1712.0,1365.2 L1714.5,1363.9 L1717.1,1362.8 L1719.6,1361.7 L1722.2,1360.6 L1724.7,1359.7 L1727.3,1358.8 L1729.9,1358.1 L1732.5,1357.4 L1735.1,1356.8 L1737.7,1356.3 L1740.3,1355.8 L1742.9,1355.5 L1745.5,1355.3 L1748.1,1355.2 L1750.7,1355.3 L1753.3,1355.4 L1755.9,1355.6 L1758.5,1355.9 L1761.1,1356.4 L1763.7,1356.9 L1766.3,1357.5 L1768.9,1358.3 L1771.5,1359.1 L1774.1,1359.9 L1776.6,1360.9 L1779.2,1361.9 L1781.8,1363.0 L1784.3,1364.2 L1786.9,1365.4 L1789.4,1366.7 L1791.9,1368.0 L1794.4,1369.4 L1796.9,1370.8 L1799.4,1372.3 L1801.9,1373.8 L1804.4,1375.3 L1806.8,1376.9 L1809.3,1378.5 L1811.7,1380.1 L1814.1,1381.7 L1816.5,1383.4 L1818.9,1385.0 L1821.2,1386.7 L1823.6,1388.3 L1825.9,1390.0 L1828.2,1391.6 L1830.5,1393.3 L1832.8,1394.9 L1835.0,1396.5 L1837.2,1398.1 L1839.5,1399.7 L1841.7,1401.2 L1843.9,1402.8 L1846.1,1404.3 L1848.4,1405.8 L1850.6,1407.2 L1852.9,1408.7 L1855.1,1410.1 L1857.4,1411.5 L1859.7,1412.8 L1862.1,1414.1 L1864.4,1415.4 L1866.8,1416.7 L1869.3,1417.9 L1871.7,1419.1 L1874.3,1420.2 L1876.8,1421.3 L1879.4,1422.4 L1882.1,1423.4 L1884.8,1424.4 L1887.6,1425.3 L1890.4,1426.1 L1893.2,1426.9 L1896.1,1427.5 L1898.9,1427.9 L1901.7,1428.2 L1904.5,1428.4 L1907.3,1428.3 L1910.1,1428.1 L1912.8,1427.8 L1915.5,1427.4 L1918.2,1426.9 L1920.9,1426.3 L1923.6,1425.7 L1926.3,1425.1 L1929.0,1424.5 L1931.8,1424.0 L1934.5,1423.4 L1937.2,1422.9 L1940.0,1422.3 L1942.7,1421.8 L1945.4,1421.3 L1948.2,1420.8 L1950.9,1420.4 L1953.7,1420.0 L1956.4,1419.5 L1959.2,1419.2 L1962.0,1418.8 L1964.7,1418.5 L1967.5,1418.2 L1970.3,1417.9 L1973.0,1417.7 L1975.8,1417.5 L1978.6,1417.3 L1981.3,1417.2 L1984.1,1417.1 L1986.9,1417.1 L1989.6,1417.1 L1992.4,1417.1 L1995.2,1417.1 L1997.9,1417.2 L2000.7,1417.4 L2003.5,1417.5 L2006.2,1417.7 L2009.0,1418.0 L2011.7,1418.2 L2014.5,1418.5 L2017.3,1418.7 L2020.0,1419.0 L2022.8,1419.3 L2025.6,1419.7 L2028.3,1420.0 L2031.1,1420.4 L2033.8,1420.7 L2036.6,1421.1 L2039.4,1421.4 L2042.1,1421.8 L2044.9,1422.2 L2047.7,1422.5 L2050.4,1422.9 L2053.2,1423.2 L2055.9,1423.6 L2058.7,1423.9 L2061.5,1424.2 L2064.2,1424.5 L2067.0,1424.8 L2069.8,1425.1 L2072.5,1425.4 L2075.3,1425.6 L2078.1,1425.9 L2080.9,1426.1 L2083.6,1426.4 L2086.4,1426.6 L2089.2,1426.8 L2091.9,1427.0 L2094.7,1427.2 L2097.5,1427.4 L2100.3,1427.6 L2103.0,1427.8 L2105.8,1428.0 L2108.6,1428.1 L2111.4,1428.3 L2114.1,1428.4 L2116.9,1428.5 L2119.7,1428.7 L2122.5,1428.8 L2125.2,1428.9 L2128.0,1429.0 L2130.8,1429.1 L2133.6,1429.2 L2136.3,1429.3 L2139.1,1429.3 L2141.9,1429.4 L2144.7,1429.5 L2147.5,1429.5 L2150.2,1429.6 L2153.0,1429.6 L2155.8,1429.7 L2158.6,1429.7 L2161.4,1429.7 L2164.1,1429.8 L2166.9,1429.8 L2169.7,1429.8 L2172.5,1429.8 L2175.3,1429.8 L2178.1,1429.8 L2180.8,1429.8 L2183.6,1429.8 L2186.4,1429.8 L2189.2,1429.8 L2192.0,1429.7 L2194.8,1429.7 L2197.5,1429.7 L2200.3,1429.7 L2203.1,1429.6 L2205.9,1429.6 L2208.7,1429.6 L2211.5,1429.5 L2214.3,1429.5 L2217.0,1429.4 L2219.8,1429.4 L2222.6,1429.3 L2225.4,1429.3 L2228.2,1429.2 L2231.0,1429.2 L2233.8,1429.1 L2236.5,1429.1 L2239.3,1429.0 L2242.1,1428.9 L2244.9,1428.9 L2247.7,1428.8 L2250.5,1428.7 L2253.3,1428.7 L2256.0,1428.6 L2258.8,1428.6 L2261.6,1428.5 L2264.4,1428.4 L2267.2,1428.4 L2270.0,1428.3 L2272.8,1428.2 L2275.5,1428.2 L2278.3,1428.1 L2281.1,1428.1 L2283.9,1428.0 L2286.7,1428.0 L2289.5,1427.9 L2292.3,1427.8 L2295.0,1427.8 L2297.8,1427.8 L2300.6,1427.7 L2303.4,1427.7 L2306.2,1427.6 L2309.0,1427.6 L2311.7,1427.5 L2314.5,1427.5 L2317.3,1427.5 L2320.1,1427.5 L2322.9,1427.4 L2325.7,1427.4 L2328.4,1427.4 L2331.2,1427.4 L2334.0,1427.4 L2336.8,1427.4 L2339.6,1427.4 L2342.4,1427.4 L2345.1,1427.4 L2347.9,1427.4 L2350.7,1427.4 L2353.5,1427.5 L2356.3,1427.5 L2359.0,1427.5 L2361.8,1427.6 L2364.6,1427.6 L2367.4,1427.7 L2370.2,1427.7 L2372.9,1427.8 L2375.7,1427.9 L2378.5,1427.9 L2381.3,1428.0 L2384.1,1428.1 L2386.8,1428.2 L2389.6,1428.3 L2392.4,1428.4 L2395.2,1428.5 L2397.9,1428.7 L2400.7,1428.8 L2403.5,1429.0" fill="none" stroke="#0000ff" stroke-width="6" stroke-linejoin="round" stroke-linecap="round"/>
<text x="1572.2" y="106.3" font-size="105" fill="#000" textLength="220.1" lengthAdjust="spacingAndGlyphs">PEG</text>
<text x="1818.1" y="106.3" font-size="105" fill="#000" textLength="203.5" lengthAdjust="spacingAndGlyphs">shell</text>
<text x="2056.6" y="106.3" font-size="105" fill="#000" textLength="77.8" lengthAdjust="spacingAndGlyphs">in</text>
<text x="2168.8" y="106.3" font-size="105" fill="#000" textLength="246.7" lengthAdjust="spacingAndGlyphs">water</text>
<text x="1718.9" y="1066.0" font-size="105" fill="#000" textLength="119.0" lengthAdjust="spacingAndGlyphs">Fe</text>
<text x="1840.5" y="1087" font-size="70" fill="#000">3</text>
<text x="1878.6" y="1066.0" font-size="105" fill="#000" textLength="75.8" lengthAdjust="spacingAndGlyphs">O</text>
<text x="1956" y="1087" font-size="70" fill="#000">4</text>
<text x="2016.5" y="1066.0" font-size="105" fill="#000" textLength="199.7" lengthAdjust="spacingAndGlyphs">core</text>
<defs><radialGradient id="sph" cx="1960" cy="803" r="163" fx="1964" fy="826" gradientUnits="userSpaceOnUse">
<stop offset="0" stop-color="#ffecd8"/><stop offset="0.14" stop-color="#f9cba3"/><stop offset="0.4" stop-color="#e58f54"/>
<stop offset="0.66" stop-color="#d0661f"/><stop offset="0.82" stop-color="#c04e12"/><stop offset="0.92" stop-color="#a8360c"/><stop offset="1" stop-color="#801706"/></radialGradient></defs>
<circle cx="1960" cy="803" r="162" fill="url(#sph)"/>
<path d="M1850.8,448.8 A363,363 0 0 1 2236.0,559.3" fill="none" stroke="#ff1a1a" stroke-width="6" stroke-dasharray="17 21"/>
<g fill="none" stroke="#7a7a7a" stroke-width="3">
<circle cx="1882.2" cy="241.4" r="73.0"/>
<circle cx="1900.7" cy="373.1" r="56.2"/>
<circle cx="1914.6" cy="472.2" r="43.0"/>
<circle cx="1925.8" cy="551.4" r="32.5"/>
<circle cx="1934.3" cy="611.8" r="24.4"/>
<circle cx="2037.8" cy="241.4" r="73.0"/>
<circle cx="2019.3" cy="373.1" r="56.2"/>
<circle cx="2005.4" cy="472.2" r="43.0"/>
<circle cx="1994.2" cy="551.4" r="32.5"/>
<circle cx="1985.7" cy="611.8" r="24.4"/>
<circle cx="2187.4" cy="284.3" r="73.0"/>
<circle cx="2133.3" cy="405.8" r="56.2"/>
<circle cx="2092.6" cy="497.2" r="43.0"/>
<circle cx="2060.1" cy="570.3" r="32.5"/>
<circle cx="2035.2" cy="626.0" r="24.4"/>
<circle cx="2325.3" cy="371.8" r="73.0"/>
<circle cx="2238.4" cy="472.5" r="56.2"/>
<circle cx="2173.0" cy="548.2" r="43.0"/>
<circle cx="2120.7" cy="608.8" r="32.5"/>
<circle cx="2080.9" cy="655.0" r="24.4"/>
</g>
<g fill="none" stroke="#0b72bd" stroke-linejoin="round" stroke-linecap="round">
<path d="M1835.3,201.1 C1840.9,201.4 1858.5,203.8 1868.8,202.9 C1879.1,202.0 1890.0,197.4 1897.0,195.9 C1904.0,194.4 1907.0,192.9 1911.1,194.1 C1915.2,195.3 1917.6,198.5 1921.7,202.9 C1925.8,207.3 1931.7,215.2 1935.8,220.5 C1939.9,225.8 1944.4,230.0 1946.4,234.7 C1948.5,239.4 1949.3,245.3 1948.1,248.8 C1946.9,252.3 1945.5,254.9 1939.3,255.8 C1933.1,256.7 1921.7,255.3 1911.1,254.1 C1900.5,252.9 1886.1,250.9 1875.8,248.8 C1865.5,246.7 1856.8,243.2 1849.4,241.7 C1842.1,240.2 1837.6,239.6 1831.7,239.9 C1825.8,240.2 1820.0,240.8 1814.1,243.5 C1808.2,246.2 1800.6,250.8 1796.5,255.8 C1792.4,260.8 1789.4,267.9 1789.4,273.5 C1789.4,279.1 1792.4,286.1 1796.5,289.3 C1800.6,292.5 1806.8,292.9 1814.1,292.9 C1821.4,292.9 1831.7,290.5 1840.5,289.3 C1849.3,288.1 1858.2,285.5 1867.0,285.8 C1875.8,286.1 1884.7,288.8 1893.5,291.1 C1902.3,293.5 1912.6,297.5 1919.9,299.9 C1927.2,302.2 1933.1,302.3 1937.5,305.2 C1941.9,308.1 1945.5,313.4 1946.4,317.5 C1947.3,321.6 1947.2,327.2 1942.8,329.9 C1938.4,332.5 1928.1,332.5 1919.9,333.4 C1911.7,334.3 1903.8,334.9 1893.5,335.2 C1883.2,335.5 1865.5,336.7 1858.2,335.2 C1850.9,333.7 1852.4,330.8 1849.4,326.4 C1846.5,322.0 1843.5,312.2 1840.5,308.7 C1837.5,305.2 1833.8,303.7 1831.7,305.2 C1829.7,306.7 1828.8,312.5 1828.2,317.5 C1827.6,322.5 1827.3,330.8 1828.2,335.2 C1829.1,339.6 1830.6,342.2 1833.5,344.0 C1836.4,345.8 1841.7,344.9 1845.8,345.8 C1849.9,346.7 1854.4,346.7 1858.2,349.3 C1862.0,351.9 1865.9,356.6 1868.8,361.6 C1871.7,366.6 1872.9,373.7 1875.8,379.3 C1878.7,384.9 1882.3,392.2 1886.4,395.1 C1890.5,398.0 1896.4,397.8 1900.5,396.9 C1904.6,396.0 1907.3,394.3 1911.1,389.9 C1914.9,385.5 1919.6,375.2 1923.4,370.5 C1927.2,365.8 1931.0,361.6 1934.0,361.6 C1937.0,361.6 1939.3,364.6 1941.1,370.5 C1942.9,376.4 1943.7,389.5 1944.6,396.9 C1945.5,404.2 1947.0,409.9 1946.4,414.6 C1945.8,419.3 1947.0,422.8 1941.1,425.1 C1935.2,427.5 1920.5,428.1 1911.1,428.7 C1901.7,429.3 1890.5,427.5 1884.6,428.7 C1878.7,429.9 1877.3,434.5 1875.8,435.7" stroke-width="4.6"/>
<path d="M1969.3,155.3 C1971.3,158.2 1976.6,168.5 1981.6,172.9 C1986.6,177.3 1991.9,178.8 1999.3,181.7 C2006.7,184.6 2016.9,187.6 2025.7,190.6 C2034.5,193.6 2043.4,196.2 2052.2,199.4 C2061.0,202.6 2071.2,205.9 2078.6,210.0 C2085.9,214.1 2092.2,219.4 2096.3,224.1 C2100.4,228.8 2102.7,233.5 2103.3,238.2 C2103.9,242.9 2102.4,248.2 2099.8,252.3 C2097.2,256.4 2091.3,261.1 2087.5,262.9 C2083.7,264.7 2079.8,264.7 2076.9,262.9 C2074.0,261.1 2072.5,255.8 2069.8,252.3 C2067.2,248.8 2066.9,243.8 2061.0,241.7 C2055.1,239.6 2044.9,239.9 2034.6,239.9 C2024.3,239.9 2008.7,239.6 1999.3,241.7 C1989.9,243.8 1982.8,248.5 1978.1,252.3 C1973.4,256.1 1972.6,259.6 1971.1,264.6 C1969.6,269.6 1969.0,277.0 1969.3,282.3 C1969.6,287.6 1970.8,292.9 1972.8,296.4 C1974.8,299.9 1975.7,302.2 1981.6,303.4 C1987.5,304.6 1997.8,303.4 2008.1,303.4 C2018.4,303.4 2033.1,303.1 2043.4,303.4 C2053.7,303.7 2062.5,305.5 2069.8,305.2 C2077.2,304.9 2083.1,304.0 2087.5,301.7 C2091.9,299.4 2094.8,292.9 2096.3,291.1" stroke-width="4.6"/>
<path d="M1964.0,333.4 C1966.9,333.1 1975.7,328.5 1981.6,331.7 C1987.5,334.9 1993.4,346.3 1999.3,352.8 C2005.2,359.3 2011.6,365.5 2016.9,370.5 C2022.2,375.5 2026.6,382.8 2031.0,382.8 C2035.4,382.8 2039.9,377.0 2043.4,370.5 C2046.9,364.0 2050.1,351.1 2052.2,344.0 C2054.2,336.9 2055.1,330.8 2055.7,328.1" stroke-width="4.6"/>
<path d="M1964.0,344.0 C1964.9,348.4 1967.2,363.1 1969.3,370.5 C1971.3,377.9 1972.8,383.7 1976.3,388.1 C1979.8,392.5 1983.7,394.8 1990.5,396.9 C1997.3,399.0 2008.1,399.0 2016.9,400.5 C2025.7,402.0 2036.1,403.3 2043.4,405.7 C2050.8,408.1 2056.6,410.2 2061.0,414.6 C2065.4,419.0 2068.3,429.3 2069.8,432.2" stroke-width="4.6"/>
<path d="M2142.9,200.6 C2144.1,203.2 2145.6,213.6 2150.0,216.5 C2154.4,219.4 2161.8,217.3 2169.4,218.2 C2177.0,219.1 2187.0,219.9 2195.8,221.7 C2204.6,223.5 2214.4,225.6 2222.3,228.8 C2230.2,232.0 2237.5,236.4 2243.4,241.1 C2249.3,245.8 2253.7,251.7 2257.5,257.0 C2261.3,262.3 2263.5,267.6 2266.4,272.9 C2269.3,278.2 2273.7,286.1 2275.2,288.8" stroke-width="4.6"/>
<path d="M2266.4,278.2 C2263.4,280.0 2254.6,285.6 2248.7,288.8 C2242.8,292.0 2236.4,293.5 2231.1,297.6 C2225.8,301.7 2222.9,309.7 2217.0,313.5 C2211.1,317.3 2202.9,320.5 2195.8,320.5 C2188.8,320.5 2181.2,317.0 2174.7,313.5 C2168.2,310.0 2163.8,304.0 2157.0,299.3 C2150.2,294.6 2142.3,288.4 2134.1,285.2 C2125.9,282.0 2114.1,279.3 2107.6,279.9 C2101.1,280.5 2097.7,283.2 2095.3,288.8 C2093.0,294.4 2092.6,306.4 2093.5,313.5 C2094.4,320.6 2095.3,325.8 2100.6,331.1 C2105.9,336.4 2116.8,341.7 2125.3,345.2 C2133.8,348.7 2143.5,349.4 2151.7,352.3 C2159.9,355.2 2169.4,359.0 2174.7,362.8 C2180.0,366.6 2181.2,368.7 2183.5,375.2 C2185.8,381.7 2188.5,394.2 2188.8,401.6 C2189.1,409.0 2188.4,414.6 2185.2,419.3 C2182.0,424.0 2176.4,427.5 2169.4,429.9 C2162.4,432.2 2150.9,434.3 2142.9,433.4 C2134.9,432.5 2127.6,429.9 2121.7,424.6 C2115.8,419.3 2112.9,406.9 2107.6,401.6 C2102.3,396.3 2092.9,394.3 2090.0,392.8" stroke-width="4.6"/>
<path d="M2301.6,267.6 C2301.9,271.1 2302.5,281.8 2303.4,288.8 C2304.3,295.9 2302.8,304.0 2306.9,309.9 C2311.0,315.8 2320.2,319.0 2328.1,324.0 C2336.0,329.0 2345.8,334.3 2354.6,339.9 C2363.4,345.5 2373.7,351.7 2381.0,357.6 C2388.3,363.5 2394.5,370.8 2398.6,375.2 C2402.7,379.6 2407.2,381.6 2405.7,384.0 C2404.2,386.4 2395.4,386.4 2389.8,389.3 C2384.2,392.2 2378.1,397.2 2372.2,401.6 C2366.3,406.0 2360.5,411.6 2354.6,415.7 C2348.7,419.8 2343.4,423.9 2336.9,426.3 C2330.4,428.7 2320.1,431.1 2315.7,429.9 C2311.3,428.7 2311.1,425.5 2310.5,419.3 C2309.9,413.1 2311.0,400.2 2312.2,392.8 C2313.4,385.4 2317.8,379.3 2317.5,375.2 C2317.2,371.1 2314.6,368.7 2310.5,368.1 C2306.4,367.5 2298.7,370.2 2292.8,371.7 C2286.9,373.2 2279.9,377.9 2275.2,377.0 C2270.5,376.1 2267.5,371.1 2264.6,366.4 C2261.7,361.7 2260.2,354.0 2257.5,348.7 C2254.8,343.4 2251.6,335.2 2248.7,334.6 C2245.8,334.0 2242.2,339.9 2239.9,345.2 C2237.6,350.5 2234.6,358.5 2234.6,366.4 C2234.6,374.3 2238.1,385.4 2239.9,392.8 C2241.7,400.2 2244.3,407.6 2245.2,410.5" stroke-width="4.6"/>
<path d="M1949.8,457.6 C1947.8,452.8 1945.4,447.7 1941.0,444.3 C1936.7,440.9 1929.9,437.4 1923.5,437.2 C1917.1,437.0 1908.6,439.9 1902.6,443.0 C1896.5,446.2 1891.6,451.2 1887.3,455.9 C1883.0,460.6 1878.3,465.9 1876.8,471.2 C1875.3,476.4 1875.7,483.2 1878.4,487.2 C1881.0,491.2 1887.8,493.6 1892.8,495.3 C1897.7,497.0 1902.8,496.7 1908.3,497.3 C1913.7,497.8 1919.3,499.6 1925.5,498.4 C1931.7,497.3 1940.7,494.6 1945.3,490.4 C1950.0,486.2 1952.6,478.7 1953.3,473.2 C1954.0,467.7 1951.9,462.4 1949.8,457.6Z" stroke-width="4.5"/>
<path d="M1887.4,493.6 C1890.0,491.8 1898.8,488.6 1902.9,483.0 C1907.0,477.4 1907.0,462.6 1911.9,460.0 C1916.8,457.4 1927.0,469.0 1932.2,467.6 C1937.4,466.2 1941.4,454.4 1943.2,451.7" stroke-width="4.5"/>
<path d="M1953.0,555.6 C1952.6,551.9 1949.6,548.5 1947.6,545.3 C1945.6,542.0 1944.1,538.9 1941.1,536.1 C1938.0,533.3 1933.8,529.6 1929.3,528.4 C1924.8,527.3 1918.4,527.8 1914.2,529.2 C1909.9,530.7 1906.6,534.1 1903.8,537.1 C1900.9,540.0 1898.1,543.3 1897.0,547.0 C1895.9,550.7 1895.3,555.7 1897.1,559.4 C1899.0,563.1 1903.7,566.9 1908.0,569.1 C1912.2,571.4 1917.6,572.1 1922.5,572.8 C1927.3,573.5 1932.5,574.0 1937.1,573.1 C1941.8,572.2 1947.7,570.3 1950.3,567.4 C1953.0,564.5 1953.5,559.3 1953.0,555.6Z" stroke-width="4.0"/>
<path d="M1901.2,551.8 C1903.4,552.5 1909.5,557.5 1914.1,556.0 C1918.6,554.5 1924.5,543.4 1928.6,543.0 C1932.7,542.7 1935.1,550.9 1938.6,553.8 C1942.0,556.6 1947.7,559.0 1949.5,560.1" stroke-width="4.0"/>
<path d="M1954.7,604.0 C1954.3,601.5 1951.8,598.7 1949.2,597.4 C1946.6,596.0 1942.4,596.0 1939.1,596.1 C1935.7,596.1 1932.3,596.6 1928.9,597.6 C1925.5,598.7 1921.4,600.1 1918.8,602.3 C1916.2,604.5 1914.1,608.1 1913.5,610.9 C1912.9,613.7 1914.2,616.6 1915.4,618.9 C1916.6,621.3 1918.3,623.5 1920.6,625.0 C1922.9,626.5 1926.3,627.8 1929.4,627.8 C1932.5,627.8 1936.4,626.3 1939.2,624.9 C1942.0,623.4 1943.8,621.0 1945.9,618.9 C1948.0,616.9 1950.1,615.0 1951.6,612.6 C1953.0,610.1 1955.1,606.6 1954.7,604.0Z" stroke-width="4.0"/>
<path d="M1919.0,620.7 C1920.6,620.4 1926.4,621.7 1928.7,619.1 C1931.0,616.5 1930.6,607.2 1933.0,605.3 C1935.3,603.5 1939.7,607.6 1942.8,607.9 C1945.9,608.3 1950.2,607.5 1951.7,607.4" stroke-width="4.0"/>
<path d="M2036.2,472.9 C2036.0,468.2 2035.2,463.9 2033.3,459.1 C2031.5,454.4 2029.4,448.1 2024.9,444.5 C2020.4,441.0 2012.5,437.9 2006.2,437.8 C2000.0,437.7 1992.7,441.0 1987.5,444.1 C1982.4,447.1 1978.6,451.7 1975.2,456.2 C1971.8,460.7 1968.0,465.8 1967.2,471.2 C1966.4,476.6 1967.2,483.8 1970.4,488.5 C1973.5,493.2 1980.4,497.0 1986.2,499.3 C1991.9,501.6 1998.6,502.4 2004.6,502.3 C2010.6,502.1 2017.3,501.2 2022.2,498.7 C2027.1,496.2 2031.9,491.8 2034.3,487.5 C2036.6,483.2 2036.3,477.7 2036.2,472.9Z" stroke-width="4.5"/>
<path d="M1974.7,461.8 C1977.5,463.2 1986.1,468.8 1991.6,470.2 C1997.0,471.7 2002.3,468.9 2007.4,470.5 C2012.4,472.2 2016.9,478.5 2021.8,480.1 C2026.7,481.6 2034.4,479.9 2036.9,479.8" stroke-width="4.5"/>
<path d="M2023.1,552.3 C2023.2,549.1 2021.3,545.0 2018.7,542.3 C2016.0,539.7 2011.2,538.0 2007.2,536.5 C2003.2,535.1 1999.4,534.1 1994.8,533.4 C1990.3,532.8 1984.5,531.6 1980.0,532.6 C1975.4,533.6 1969.9,536.4 1967.5,539.4 C1965.0,542.4 1965.0,546.9 1965.4,550.4 C1965.8,554.0 1967.6,557.3 1969.8,560.5 C1971.9,563.7 1974.5,567.3 1978.4,569.5 C1982.4,571.7 1988.6,573.6 1993.5,573.6 C1998.4,573.6 2004.0,571.5 2008.1,569.6 C2012.2,567.7 2015.5,564.9 2018.0,562.0 C2020.5,559.2 2023.0,555.6 2023.1,552.3Z" stroke-width="4.0"/>
<path d="M1969.9,552.7 C1972.1,553.4 1978.8,557.8 1983.2,556.4 C1987.5,555.1 1992.0,544.8 1996.0,544.6 C2000.0,544.4 2003.4,553.7 2007.2,555.3 C2011.1,557.0 2017.1,554.8 2019.1,554.7" stroke-width="4.0"/>
<path d="M2007.5,611.6 C2007.3,608.9 2007.0,606.2 2005.3,603.8 C2003.7,601.4 2001.2,598.5 1997.9,597.1 C1994.6,595.8 1989.4,595.3 1985.6,595.7 C1981.8,596.1 1978.2,598.0 1975.2,599.6 C1972.3,601.1 1969.8,602.9 1967.9,605.0 C1966.0,607.0 1963.9,609.6 1963.7,612.0 C1963.6,614.4 1964.9,617.4 1966.9,619.5 C1968.8,621.6 1972.0,623.2 1975.2,624.6 C1978.4,625.9 1982.1,627.1 1985.9,627.4 C1989.7,627.6 1994.8,627.5 1998.2,626.2 C2001.6,624.9 2004.7,622.1 2006.2,619.7 C2007.8,617.2 2007.6,614.2 2007.5,611.6Z" stroke-width="4.0"/>
<path d="M1966.7,608.5 C1968.5,610.2 1973.9,618.7 1977.3,618.4 C1980.7,618.1 1983.8,607.4 1986.9,606.9 C1990.0,606.4 1993.0,614.7 1996.0,615.3 C1999.1,616.0 2003.7,611.6 2005.2,610.8" stroke-width="4.0"/>
<path d="M2169.9,415.8 C2172.5,408.8 2174.7,399.6 2173.6,392.3 C2172.4,385.1 2167.8,377.5 2163.2,372.3 C2158.5,367.1 2151.9,363.6 2145.4,361.3 C2138.8,359.0 2130.9,356.8 2123.8,358.4 C2116.6,359.9 2107.6,364.4 2102.5,370.5 C2097.4,376.6 2094.5,386.8 2093.1,394.9 C2091.6,403.0 2092.6,411.2 2093.9,419.0 C2095.2,426.9 2096.8,435.8 2101.0,442.0 C2105.3,448.1 2112.7,454.7 2119.6,456.1 C2126.5,457.5 2135.8,454.1 2142.2,450.4 C2148.6,446.8 2153.4,440.0 2158.0,434.3 C2162.6,428.5 2167.3,422.8 2169.9,415.8Z" stroke-width="4.8"/>
<path d="M2133.5,448.8 C2133.2,444.7 2131.0,431.6 2131.6,424.1 C2132.2,416.7 2137.4,411.2 2137.1,404.2 C2136.7,397.2 2128.1,388.6 2129.4,382.3 C2130.7,375.9 2142.2,368.8 2144.8,366.1" stroke-width="4.8"/>
<path d="M2117.8,518.3 C2122.5,513.8 2126.9,505.6 2128.3,499.5 C2129.6,493.3 2127.6,486.5 2125.8,481.3 C2123.9,476.0 2121.0,471.5 2117.2,467.8 C2113.4,464.0 2108.8,459.7 2103.2,458.8 C2097.7,457.9 2089.7,459.3 2084.1,462.5 C2078.4,465.6 2073.1,472.2 2069.2,477.6 C2065.4,483.1 2062.5,489.3 2061.1,495.2 C2059.6,501.0 2059.0,507.8 2060.5,512.6 C2062.0,517.4 2066.1,521.7 2070.1,524.1 C2074.1,526.4 2079.5,526.4 2084.4,526.7 C2089.3,527.1 2094.2,527.6 2099.7,526.2 C2105.3,524.8 2113.0,522.7 2117.8,518.3Z" stroke-width="4.5"/>
<path d="M2077.7,528.9 C2077.0,524.3 2071.0,506.3 2074.0,501.0 C2077.0,495.7 2091.2,500.3 2095.8,497.1 C2100.4,493.8 2097.4,484.9 2101.6,481.5 C2105.8,478.1 2117.6,477.4 2120.8,476.5" stroke-width="4.5"/>
<path d="M2077.6,582.6 C2080.7,578.9 2084.4,573.9 2085.3,569.5 C2086.3,565.1 2085.2,559.5 2083.3,556.3 C2081.3,553.2 2076.9,552.1 2073.7,550.8 C2070.6,549.5 2067.7,548.9 2064.3,548.7 C2060.9,548.4 2056.8,547.6 2053.2,549.1 C2049.5,550.6 2044.9,554.1 2042.3,557.8 C2039.6,561.4 2038.3,566.6 2037.5,571.0 C2036.6,575.3 2036.5,579.8 2037.4,583.9 C2038.2,587.9 2039.7,592.8 2042.6,595.1 C2045.5,597.4 2050.6,598.3 2054.7,597.8 C2058.7,597.2 2063.2,594.3 2067.1,591.8 C2070.9,589.2 2074.6,586.3 2077.6,582.6Z" stroke-width="4.0"/>
<path d="M2041.3,586.7 C2042.4,584.7 2043.7,577.0 2047.8,574.6 C2051.8,572.2 2062.0,574.5 2065.6,572.3 C2069.2,570.1 2068.5,565.3 2069.2,561.2 C2070.0,557.1 2070.0,550.0 2070.1,547.7" stroke-width="4.0"/>
<path d="M2048.6,631.1 C2049.9,628.2 2051.2,624.6 2051.1,621.6 C2051.1,618.6 2050.0,615.2 2048.5,612.8 C2047.1,610.5 2044.7,608.7 2042.3,607.5 C2039.8,606.3 2036.9,605.4 2033.9,605.8 C2031.0,606.1 2027.2,607.5 2024.7,609.8 C2022.3,612.2 2020.3,616.5 2019.4,620.0 C2018.4,623.4 2018.6,627.1 2018.9,630.5 C2019.1,633.9 2019.5,637.5 2020.8,640.3 C2022.2,643.1 2024.5,646.3 2027.2,647.3 C2029.8,648.3 2033.8,647.7 2036.6,646.3 C2039.3,644.9 2041.8,641.7 2043.8,639.1 C2045.8,636.6 2047.4,634.0 2048.6,631.1Z" stroke-width="4.0"/>
<path d="M2032.1,644.1 C2031.7,642.1 2028.7,635.4 2029.6,632.3 C2030.5,629.2 2037.0,628.6 2037.5,625.6 C2038.0,622.7 2031.0,617.3 2032.4,614.8 C2033.8,612.3 2043.6,611.4 2045.8,610.7" stroke-width="4.0"/>
<path d="M2265.8,485.5 C2268.1,478.3 2268.1,472.2 2269.0,465.1 C2269.9,458.0 2272.4,449.7 2271.2,442.7 C2270.0,435.7 2266.9,426.1 2261.8,422.9 C2256.8,419.8 2247.6,421.3 2240.8,423.7 C2234.1,426.2 2227.5,432.1 2221.5,437.6 C2215.5,443.1 2209.2,449.1 2204.9,456.7 C2200.5,464.2 2196.1,474.7 2195.6,482.9 C2195.2,491.0 2198.5,499.7 2202.2,505.3 C2205.9,511.0 2211.9,514.1 2217.5,516.5 C2223.1,519.0 2229.6,521.5 2235.9,520.1 C2242.3,518.7 2250.5,513.9 2255.5,508.1 C2260.5,502.4 2263.6,492.7 2265.8,485.5Z" stroke-width="4.8"/>
<path d="M2222.4,513.4 C2223.6,509.5 2227.4,497.1 2229.9,489.7 C2232.5,482.4 2235.9,476.1 2237.9,469.3 C2239.8,462.4 2239.8,455.3 2241.7,448.7 C2243.7,442.0 2248.3,432.6 2249.7,429.4" stroke-width="4.8"/>
<path d="M2203.2,561.9 C2206.2,556.4 2206.9,547.9 2206.5,541.7 C2206.1,535.5 2203.3,529.9 2200.6,524.7 C2197.8,519.6 2194.6,513.8 2190.0,510.9 C2185.3,508.0 2178.2,506.1 2172.5,507.4 C2166.8,508.7 2160.4,514.0 2155.9,518.7 C2151.3,523.4 2148.0,529.5 2145.1,535.5 C2142.1,541.6 2138.7,548.5 2138.3,555.0 C2137.9,561.4 2139.4,569.8 2142.8,574.0 C2146.1,578.2 2153.3,579.6 2158.4,580.4 C2163.5,581.1 2168.3,579.4 2173.4,578.5 C2178.4,577.7 2183.7,577.9 2188.6,575.1 C2193.6,572.3 2200.2,567.5 2203.2,561.9Z" stroke-width="4.5"/>
<path d="M2158.1,578.7 C2158.8,575.5 2158.0,564.3 2162.0,559.5 C2166.0,554.7 2180.0,555.0 2182.2,550.1 C2184.4,545.1 2175.2,535.5 2175.4,529.7 C2175.5,524.0 2181.8,517.9 2183.1,515.6" stroke-width="4.5"/>
<path d="M2141.6,624.1 C2144.8,620.2 2147.4,613.9 2148.0,609.1 C2148.6,604.3 2146.9,599.2 2145.1,595.4 C2143.4,591.6 2140.6,588.4 2137.4,586.2 C2134.3,583.9 2130.2,582.0 2126.2,582.0 C2122.3,582.1 2117.3,584.0 2113.6,586.4 C2109.8,588.8 2106.8,592.6 2103.9,596.3 C2101.0,600.0 2097.8,603.9 2096.2,608.5 C2094.5,613.0 2092.8,619.3 2093.7,623.6 C2094.7,627.9 2098.2,632.4 2101.8,634.4 C2105.4,636.5 2110.7,636.3 2115.1,636.1 C2119.6,635.8 2124.1,634.8 2128.5,632.9 C2132.9,630.9 2138.3,628.1 2141.6,624.1Z" stroke-width="4.0"/>
<path d="M2105.4,629.6 C2106.0,627.0 2106.7,618.2 2109.2,614.3 C2111.7,610.5 2118.2,610.0 2120.5,606.6 C2122.9,603.2 2120.1,596.5 2123.3,593.8 C2126.5,591.1 2136.9,591.1 2139.6,590.6" stroke-width="4.0"/>
<path d="M2095.0,664.9 C2097.2,662.2 2098.5,658.1 2099.1,654.7 C2099.7,651.4 2099.3,647.9 2098.5,644.7 C2097.7,641.6 2096.6,637.8 2094.4,635.8 C2092.1,633.8 2088.2,632.6 2085.0,632.8 C2081.7,633.1 2077.9,635.5 2074.9,637.6 C2071.9,639.6 2069.3,642.2 2066.9,645.1 C2064.6,648.1 2061.8,651.7 2060.9,655.2 C2060.1,658.7 2060.3,663.5 2061.8,666.0 C2063.2,668.6 2067.1,669.8 2069.8,670.7 C2072.5,671.6 2075.1,671.2 2077.9,671.2 C2080.6,671.2 2083.4,671.8 2086.3,670.7 C2089.2,669.7 2092.9,667.6 2095.0,664.9Z" stroke-width="4.0"/>
<path d="M2072.4,672.1 C2072.4,670.0 2070.6,661.9 2072.7,659.4 C2074.9,656.8 2083.8,659.3 2085.5,656.7 C2087.1,654.2 2081.6,646.9 2082.6,644.0 C2083.6,641.1 2090.1,640.2 2091.7,639.4" stroke-width="4.0"/>
</g>
<g stroke="#2b2b2b" stroke-width="2.8" stroke-opacity="0.8">
<line x1="1960.0" y1="795.0" x2="1788.6" y2="197.1"/>
<line x1="1960.0" y1="795.0" x2="1960.0" y2="173.0"/>
<line x1="1960.0" y1="795.0" x2="2131.4" y2="197.1"/>
<line x1="1960.0" y1="795.0" x2="2289.6" y2="267.5"/>
<line x1="1960.0" y1="795.0" x2="2422.2" y2="378.8"/>
</g>
<line x1="2325.3" y1="371.8" x2="2375" y2="382.5" stroke="#a0a0a0" stroke-width="3"/>
<path d="M2373,379 L2384,384.5 L2373,389 Z" fill="#111"/>
<circle cx="1960" cy="795" r="3.5" fill="#111"/>
</svg></body></html>
